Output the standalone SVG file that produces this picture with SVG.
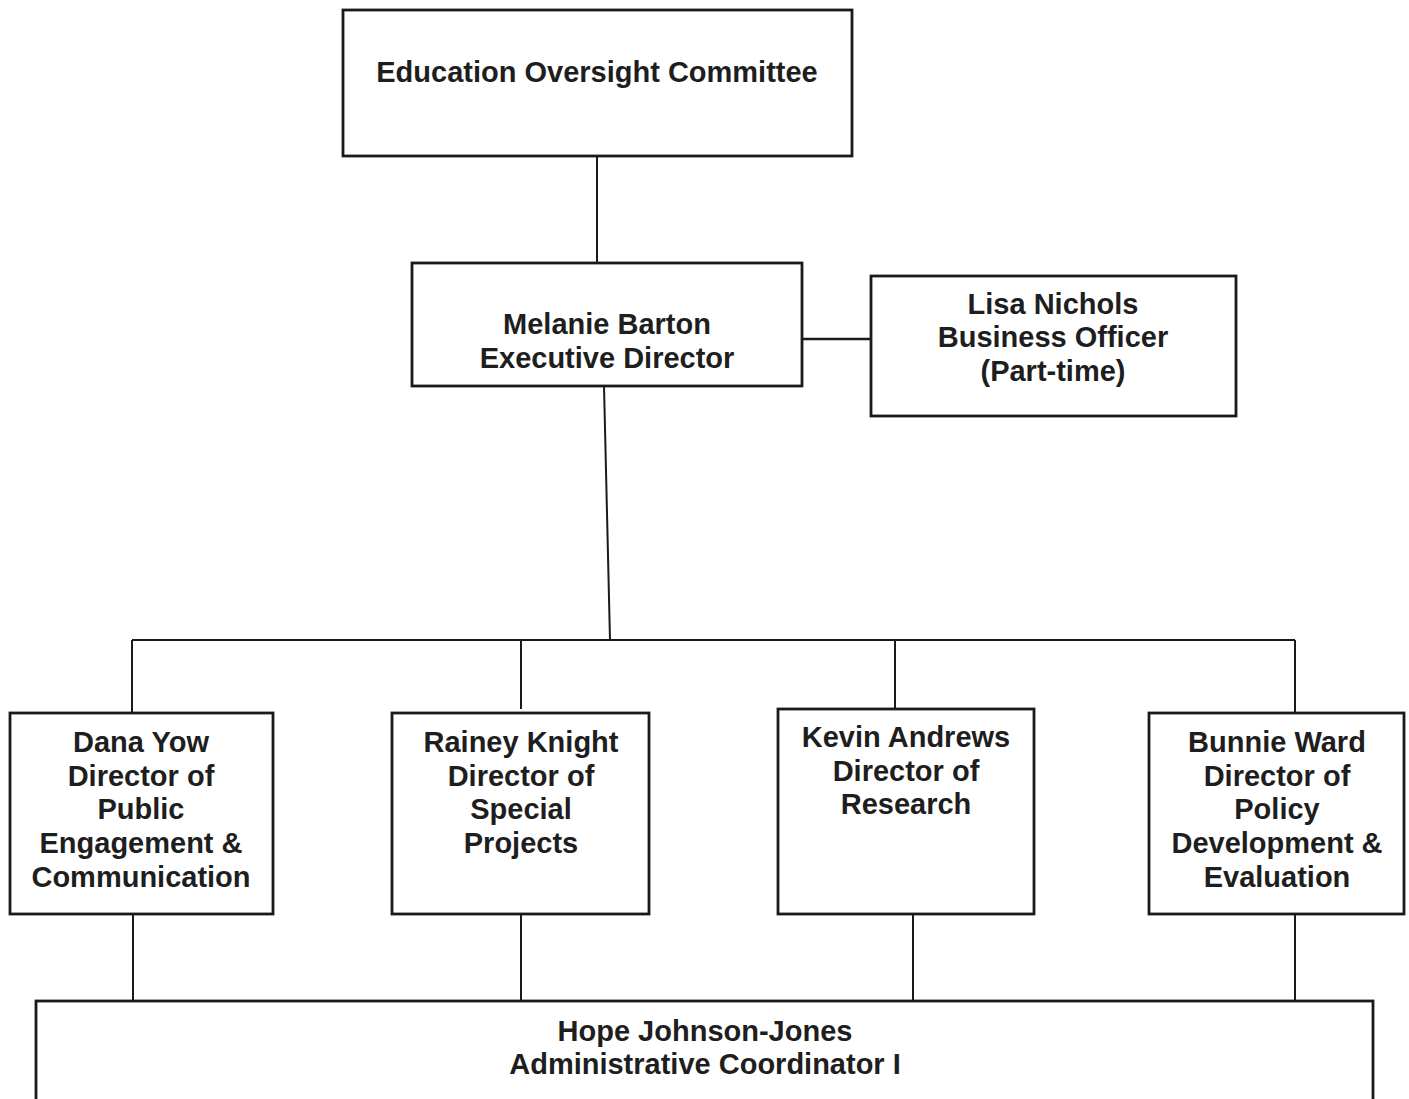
<svg xmlns="http://www.w3.org/2000/svg" width="1409" height="1099" viewBox="0 0 1409 1099">
<style>
.box{fill:#fff;stroke:#1a1a1a;stroke-width:2.8}
.ln{fill:none;stroke:#1a1a1a;stroke-width:2}
text{font-family:"Liberation Sans",Arial,sans-serif;font-weight:bold;font-size:29px;fill:#1e1e1e;text-anchor:middle}
</style>
<rect width="1409" height="1099" fill="#fff"/>
<g id="connectors">
<line class="ln" x1="597" y1="156" x2="597" y2="263"/>
<line class="ln" x1="802" y1="339" x2="871" y2="339" style="stroke-width:2.5"/>
<line class="ln" x1="604" y1="386" x2="610" y2="640"/>
<line class="ln" x1="132" y1="640" x2="1295" y2="640"/>
<line class="ln" x1="132" y1="640" x2="132" y2="713"/>
<line class="ln" x1="521" y1="640" x2="521" y2="709"/>
<line class="ln" x1="895" y1="640" x2="895" y2="709"/>
<line class="ln" x1="1295" y1="640" x2="1295" y2="713"/>
<line class="ln" x1="133" y1="914" x2="133" y2="1001"/>
<line class="ln" x1="521" y1="914" x2="521" y2="1001"/>
<line class="ln" x1="913" y1="914" x2="913" y2="1001"/>
<line class="ln" x1="1295" y1="914" x2="1295" y2="1001"/>
</g>
<g id="eoc">
<rect class="box" x="343" y="10" width="509" height="146"/>
<text x="597" y="82">Education Oversight Committee</text>
</g>
<g id="barton">
<rect class="box" x="412" y="263" width="390" height="123"/>
<text x="607" y="334">Melanie Barton</text>
<text x="607" y="368">Executive Director</text>
</g>
<g id="nichols">
<rect class="box" x="871" y="276" width="365" height="140"/>
<text x="1053" y="314">Lisa Nichols</text>
<text x="1053" y="347">Business Officer</text>
<text x="1053" y="381">(Part-time)</text>
</g>
<g id="yow">
<rect class="box" x="10" y="713" width="263" height="201"/>
<text x="141" y="752">Dana Yow</text>
<text x="141" y="786">Director of</text>
<text x="141" y="819">Public</text>
<text x="141" y="853">Engagement &amp;</text>
<text x="141" y="887">Communication</text>
</g>
<g id="knight">
<rect class="box" x="392" y="713" width="257" height="201"/>
<text x="521" y="752">Rainey Knight</text>
<text x="521" y="786">Director of</text>
<text x="521" y="819">Special</text>
<text x="521" y="853">Projects</text>
</g>
<g id="andrews">
<rect class="box" x="778" y="709" width="256" height="205"/>
<text x="906" y="747">Kevin Andrews</text>
<text x="906" y="781">Director of</text>
<text x="906" y="814">Research</text>
</g>
<g id="ward">
<rect class="box" x="1149" y="713" width="255" height="201"/>
<text x="1277" y="752">Bunnie Ward</text>
<text x="1277" y="786">Director of</text>
<text x="1277" y="819">Policy</text>
<text x="1277" y="853">Development &amp;</text>
<text x="1277" y="887">Evaluation</text>
</g>
<g id="johnson-jones">
<rect class="box" x="36" y="1001" width="1337" height="120"/>
<text x="705" y="1041">Hope Johnson-Jones</text>
<text x="705" y="1074">Administrative Coordinator I</text>
</g>
</svg>
